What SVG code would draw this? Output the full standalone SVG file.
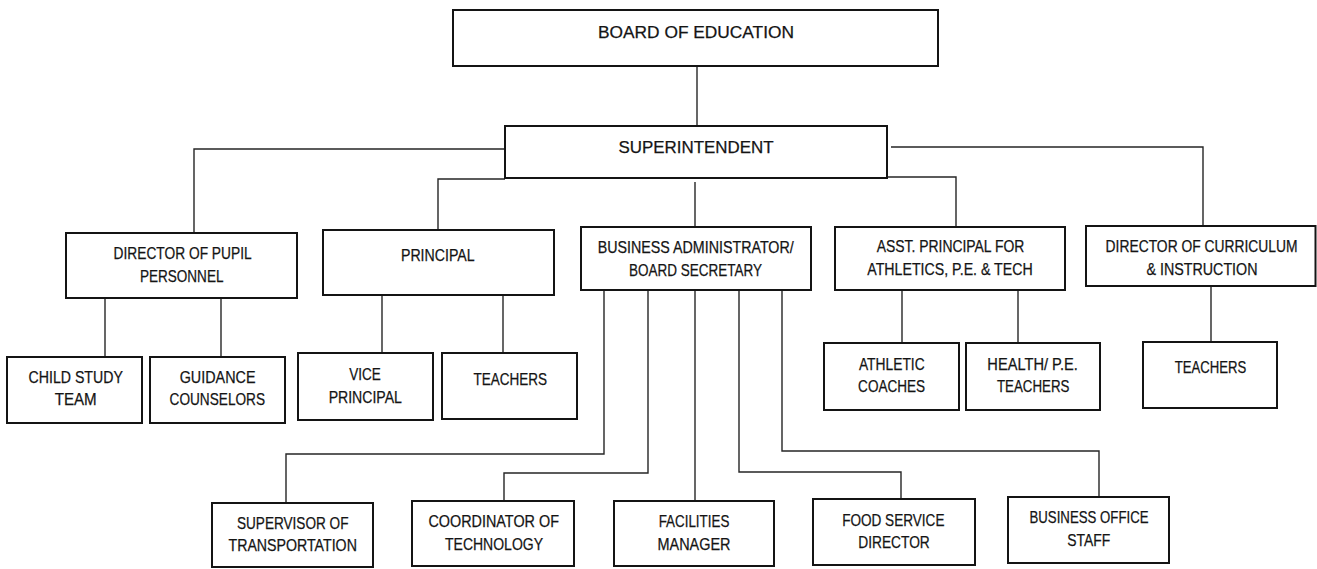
<svg xmlns="http://www.w3.org/2000/svg" width="1317" height="569" viewBox="0 0 1317 569">
  <style>
    .box { fill: #ffffff; stroke: #141414; stroke-width: 2; }
    .lbl { font-family: "Liberation Sans Narrow", "Liberation Sans", Arial, sans-serif; font-size: 16.5px; fill: #141414; stroke: #141414; stroke-width: 0.25; text-anchor: middle; }
    .conn path { fill: none; stroke: #262626; stroke-width: 1.4; }
  </style>
  <rect width="1317" height="569" fill="#ffffff"/>

  <!-- connectors -->
  <g id="connectors" class="conn">
    <path d="M697 66 V126"/>
    <path d="M505 149 H194 V233"/>
    <path d="M505 179 H438 V230"/>
    <path d="M887 177 H956 V227"/>
    <path d="M891 147 H1203 V226"/>
    <path d="M695 182 V227"/>
    <path d="M105 298 V357"/>
    <path d="M221 298 V357"/>
    <path d="M382 295 V353"/>
    <path d="M503 295 V353"/>
    <path d="M604 290 V454 H286 V503"/>
    <path d="M648 290 V473 H504 V501"/>
    <path d="M695 290 V501"/>
    <path d="M739 290 V472 H901 V499"/>
    <path d="M782 290 V451 H1099 V497"/>
    <path d="M902 290 V343"/>
    <path d="M1018 290 V343"/>
    <path d="M1211 286 V342"/>
  </g>

  <g id="board">
    <rect class="box" x="453" y="10" width="485" height="56"/>
    <text class="lbl" x="696" y="38" textLength="196" lengthAdjust="spacingAndGlyphs">BOARD OF EDUCATION</text>
  </g>
  <g id="superintendent">
    <rect class="box" x="505" y="126" width="382" height="52"/>
    <text class="lbl" x="696" y="153" textLength="155" lengthAdjust="spacingAndGlyphs">SUPERINTENDENT</text>
  </g>

  <g id="dir-pupil">
    <rect class="box" x="66" y="233" width="231" height="65"/>
    <text class="lbl" x="182.6" y="259" textLength="138" lengthAdjust="spacingAndGlyphs">DIRECTOR OF PUPIL</text>
    <text class="lbl" x="181.7" y="282" textLength="83.5" lengthAdjust="spacingAndGlyphs">PERSONNEL</text>
  </g>
  <g id="principal">
    <rect class="box" x="323" y="230" width="231" height="65"/>
    <text class="lbl" x="437.8" y="261" textLength="73.7" lengthAdjust="spacingAndGlyphs">PRINCIPAL</text>
  </g>
  <g id="business-admin">
    <rect class="box" x="581" y="227" width="230" height="63"/>
    <text class="lbl" x="695.7" y="252.5" textLength="196" lengthAdjust="spacingAndGlyphs">BUSINESS ADMINISTRATOR/</text>
    <text class="lbl" x="695.5" y="275.5" textLength="133" lengthAdjust="spacingAndGlyphs">BOARD SECRETARY</text>
  </g>
  <g id="asst-principal">
    <rect class="box" x="835" y="227" width="230" height="63"/>
    <text class="lbl" x="950.5" y="252" textLength="147.7" lengthAdjust="spacingAndGlyphs">ASST. PRINCIPAL FOR</text>
    <text class="lbl" x="950" y="274.5" textLength="165.4" lengthAdjust="spacingAndGlyphs">ATHLETICS, P.E. &amp; TECH</text>
  </g>
  <g id="dir-curriculum">
    <rect class="box" x="1086" y="226" width="229.5" height="60"/>
    <text class="lbl" x="1201.6" y="252" font-size="15.5" textLength="192" lengthAdjust="spacingAndGlyphs">DIRECTOR OF CURRICULUM</text>
    <text class="lbl" x="1202" y="274.5" textLength="111" lengthAdjust="spacingAndGlyphs">&amp; INSTRUCTION</text>
  </g>

  <g id="child-study">
    <rect class="box" x="7" y="357" width="135" height="66"/>
    <text class="lbl" x="75.7" y="382.5" textLength="94.3" lengthAdjust="spacingAndGlyphs">CHILD STUDY</text>
    <text class="lbl" x="75.7" y="405" textLength="42" lengthAdjust="spacingAndGlyphs">TEAM</text>
  </g>
  <g id="guidance">
    <rect class="box" x="150" y="357" width="135" height="66"/>
    <text class="lbl" x="217.6" y="382.5" textLength="75.8" lengthAdjust="spacingAndGlyphs">GUIDANCE</text>
    <text class="lbl" x="217.3" y="405" textLength="95.5" lengthAdjust="spacingAndGlyphs">COUNSELORS</text>
  </g>
  <g id="vice-principal">
    <rect class="box" x="298" y="353" width="135" height="67"/>
    <text class="lbl" x="365" y="379.5" textLength="31.6" lengthAdjust="spacingAndGlyphs">VICE</text>
    <text class="lbl" x="365.3" y="402.5" textLength="73.3" lengthAdjust="spacingAndGlyphs">PRINCIPAL</text>
  </g>
  <g id="teachers-principal">
    <rect class="box" x="442" y="353" width="135" height="66"/>
    <text class="lbl" x="510.2" y="384.5" textLength="73.6" lengthAdjust="spacingAndGlyphs">TEACHERS</text>
  </g>
  <g id="athletic-coaches">
    <rect class="box" x="824" y="343" width="135" height="67"/>
    <text class="lbl" x="891.8" y="369.5" textLength="65.7" lengthAdjust="spacingAndGlyphs">ATHLETIC</text>
    <text class="lbl" x="891.6" y="392" textLength="67" lengthAdjust="spacingAndGlyphs">COACHES</text>
  </g>
  <g id="health-pe">
    <rect class="box" x="966" y="343" width="134" height="67"/>
    <text class="lbl" x="1032.6" y="369.5" textLength="90.5" lengthAdjust="spacingAndGlyphs">HEALTH/ P.E.</text>
    <text class="lbl" x="1033.2" y="392" textLength="72.5" lengthAdjust="spacingAndGlyphs">TEACHERS</text>
  </g>
  <g id="teachers-curriculum">
    <rect class="box" x="1143" y="342" width="134" height="66"/>
    <text class="lbl" x="1210.5" y="372.5" textLength="71.5" lengthAdjust="spacingAndGlyphs">TEACHERS</text>
  </g>

  <g id="transportation">
    <rect class="box" x="212" y="503" width="161" height="64"/>
    <text class="lbl" x="292.7" y="528.5" textLength="111.5" lengthAdjust="spacingAndGlyphs">SUPERVISOR OF</text>
    <text class="lbl" x="292.7" y="551" textLength="128.4" lengthAdjust="spacingAndGlyphs">TRANSPORTATION</text>
  </g>
  <g id="technology">
    <rect class="box" x="412" y="501" width="162" height="65"/>
    <text class="lbl" x="493.7" y="527" textLength="130.5" lengthAdjust="spacingAndGlyphs">COORDINATOR OF</text>
    <text class="lbl" x="494" y="549.5" textLength="98" lengthAdjust="spacingAndGlyphs">TECHNOLOGY</text>
  </g>
  <g id="facilities">
    <rect class="box" x="614" y="501" width="160" height="65"/>
    <text class="lbl" x="694" y="526.5" textLength="70.7" lengthAdjust="spacingAndGlyphs">FACILITIES</text>
    <text class="lbl" x="694" y="549.5" textLength="73" lengthAdjust="spacingAndGlyphs">MANAGER</text>
  </g>
  <g id="food-service">
    <rect class="box" x="813" y="499" width="162" height="66"/>
    <text class="lbl" x="893.3" y="525.5" textLength="102.3" lengthAdjust="spacingAndGlyphs">FOOD SERVICE</text>
    <text class="lbl" x="894" y="548" textLength="71.5" lengthAdjust="spacingAndGlyphs">DIRECTOR</text>
  </g>
  <g id="business-office">
    <rect class="box" x="1008" y="497" width="161" height="66"/>
    <text class="lbl" x="1089" y="522.5" textLength="119" lengthAdjust="spacingAndGlyphs">BUSINESS OFFICE</text>
    <text class="lbl" x="1088.8" y="545.5" textLength="43" lengthAdjust="spacingAndGlyphs">STAFF</text>
  </g>
</svg>
